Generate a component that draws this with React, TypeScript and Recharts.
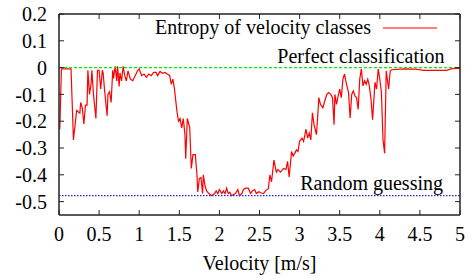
import React from 'react';
import { LineChart, Line, XAxis, YAxis, ReferenceLine, Legend } from 'recharts';

if (typeof document !== 'undefined') {
    document.body.style.margin = '0';
}

const FONT = '"Liberation Serif", "Times New Roman", serif';

// Velocity [m/s] sample positions and entropy values
const velocity = [
    0.01, 0.03, 0.15, 0.18, 0.22, 0.26, 0.27, 0.29, 0.31, 0.33, 0.35, 0.36, 0.38, 0.4, 0.41, 0.43, 0.46, 0.48,
    0.5, 0.52, 0.54, 0.55, 0.57, 0.6, 0.61, 0.63, 0.65, 0.67, 0.68, 0.7, 0.72, 0.73, 0.75, 0.76, 0.78, 0.8,
    0.82, 0.84, 0.86, 0.89, 0.92, 0.95, 0.98, 1.0, 1.03, 1.06, 1.09, 1.12, 1.15, 1.18, 1.21, 1.23, 1.26, 1.29,
    1.32, 1.35, 1.38, 1.4, 1.42, 1.44, 1.47, 1.49, 1.51, 1.53, 1.55, 1.57, 1.58, 1.6, 1.63, 1.65, 1.67, 1.7,
    1.72, 1.73, 1.75, 1.77, 1.79, 1.8, 1.82, 1.84, 1.87, 1.9, 1.94, 1.96, 1.98, 2.0, 2.03, 2.05, 2.07, 2.09,
    2.11, 2.13, 2.15, 2.2, 2.23, 2.25, 2.28, 2.3, 2.33, 2.36, 2.39, 2.41, 2.44, 2.46, 2.49, 2.52, 2.55, 2.58,
    2.61, 2.63, 2.65, 2.68, 2.71, 2.73, 2.76, 2.8, 2.83, 2.85, 2.87, 2.9, 2.92, 2.94, 2.96, 2.98, 3.0, 3.03,
    3.05, 3.08, 3.1, 3.12, 3.14, 3.16, 3.18, 3.21, 3.23, 3.24, 3.26, 3.29, 3.32, 3.34, 3.36, 3.39, 3.41, 3.43,
    3.44, 3.46, 3.48, 3.5, 3.52, 3.54, 3.56, 3.58, 3.61, 3.63, 3.65, 3.67, 3.69, 3.71, 3.73, 3.75, 3.77, 3.79,
    3.81, 3.83, 3.85, 3.87, 3.89, 3.91, 3.94, 3.96, 3.98, 4.0, 4.02, 4.04, 4.06, 4.08, 4.11, 4.13, 4.15, 4.3,
    4.45, 4.55, 4.83, 4.9, 5.0,
];

const entropy = [
    -0.23, -0.005, -0.005, -0.27, -0.16, -0.17, -0.13, -0.15, -0.21, -0.14, -0.14, -0.01, -0.1, -0.06, -0.01, -0.1, -0.19, -0.01,
    -0.01, -0.08, -0.01, -0.02, -0.09, -0.18, -0.1, -0.09, -0.13, -0.01, -0.04, 0.005, -0.05, 0.005, -0.07, -0.02, -0.05, 0.005,
    -0.03, -0.05, -0.012, -0.043, -0.049, -0.03, -0.011, -0.005, -0.03, -0.024, -0.036, -0.024, -0.03, -0.018, -0.018, -0.03, -0.014, -0.021,
    -0.018, -0.024, -0.03, -0.062, -0.043, -0.08, -0.162, -0.2, -0.19, -0.225, -0.19, -0.25, -0.34, -0.19, -0.225, -0.376, -0.325, -0.325,
    -0.4, -0.464, -0.414, -0.41, -0.47, -0.4, -0.44, -0.46, -0.47, -0.478, -0.47, -0.46, -0.47, -0.455, -0.47, -0.46, -0.47, -0.45,
    -0.47, -0.465, -0.478, -0.47, -0.455, -0.478, -0.47, -0.455, -0.45, -0.45, -0.47, -0.46, -0.455, -0.47, -0.463, -0.468, -0.47, -0.458,
    -0.452, -0.4, -0.426, -0.345, -0.39, -0.38, -0.39, -0.376, -0.38, -0.35, -0.408, -0.313, -0.33, -0.32, -0.307, -0.313, -0.275, -0.263,
    -0.275, -0.23, -0.263, -0.244, -0.27, -0.169, -0.213, -0.25, -0.162, -0.112, -0.137, -0.15, -0.118, -0.1, -0.093, -0.1, -0.112, -0.213,
    -0.1, -0.137, -0.106, -0.08, -0.112, -0.043, -0.024, -0.055, -0.093, -0.188, -0.1, -0.087, -0.106, -0.112, -0.156, -0.043, -0.005, -0.068,
    -0.049, -0.062, -0.043, -0.068, -0.118, -0.194, -0.055, -0.08, -0.005, -0.043, -0.093, -0.269, -0.32, -0.012, -0.08, -0.012, -0.008, -0.005,
    -0.006, -0.01, -0.01, -0.004, -0.003,
];

const xTicks = [0, 0.5, 1, 1.5, 2, 2.5, 3, 3.5, 4, 4.5, 5];
const yTicks = [-0.5, -0.4, -0.3, -0.2, -0.1, 0, 0.1, 0.2];

const perfectLevel = 0;
const randomLevel = -0.478;

const data = velocity.map((v, i) => ({ v, h: entropy[i] }));

const LineLabel = (props: any) => {
    const { viewBox, text, dx, dy } = props;
    if (!viewBox) return null;
    return (
        <text
            x={viewBox.x + viewBox.width + dx}
            y={viewBox.y + dy}
            textAnchor="end"
            fontSize={20}
            fontFamily={FONT}
            fill="#000"
        >
            {text}
        </text>
    );
};

const XLabel = (props: any) => {
    const { viewBox } = props;
    if (!viewBox) return null;
    return (
        <text x={viewBox.x + viewBox.width / 2} y={viewBox.y + 54.5} textAnchor="middle" fontSize={20} fontFamily={FONT} fill="#000">
            Velocity [m/s]
        </text>
    );
};

const LegendBox = () => (
    <div style={{ display: 'flex', alignItems: 'center', fontFamily: FONT, fontSize: 20, lineHeight: '20px', color: '#000' }}>
        <span>Entropy of velocity classes</span>
        <svg width={66} height={20} style={{ display: 'block' }}>
            <line x1={12} x2={66} y1={11} y2={11} stroke="#ff0000" strokeWidth={1.2} />
        </svg>
    </div>
);

const frame = { stroke: '#222', strokeWidth: 1.5 };
const tickStyle = { stroke: '#222', strokeWidth: 1 };
const noLabel = () => <g />;

export default function App() {
    return (
        <div style={{ width: 472, height: 278, background: '#fff', position: 'relative' }}>
            <LineChart width={472} height={278} data={data} margin={{ top: 13, right: 11, left: 0, bottom: 0 }}>
                <XAxis
                    dataKey="v"
                    type="number"
                    domain={[0, 5]}
                    ticks={xTicks}
                    interval={0}
                    height={63}
                    tickSize={-5}
                    tickMargin={16.5}
                    axisLine={frame}
                    tickLine={tickStyle}
                    tick={{ fontSize: 20, fontFamily: FONT, fill: '#000' }}
                    label={<XLabel />}
                />
                <XAxis
                    xAxisId="top"
                    dataKey="v"
                    orientation="top"
                    type="number"
                    domain={[0, 5]}
                    ticks={xTicks}
                    interval={0}
                    height={1}
                    tickSize={-5}
                    axisLine={frame}
                    tickLine={tickStyle}
                    tick={noLabel}
                />
                <YAxis
                    type="number"
                    domain={[-0.55, 0.2]}
                    ticks={yTicks}
                    interval={0}
                    width={59}
                    tickSize={-5}
                    tickMargin={17}
                    axisLine={frame}
                    tickLine={tickStyle}
                    tick={{ fontSize: 20, fontFamily: FONT, fill: '#000' }}
                    allowDataOverflow
                />
                <YAxis
                    yAxisId="right"
                    orientation="right"
                    type="number"
                    domain={[-0.55, 0.2]}
                    ticks={yTicks}
                    interval={0}
                    width={1}
                    tickSize={-5}
                    axisLine={frame}
                    tickLine={tickStyle}
                    tick={noLabel}
                    allowDataOverflow
                />
                <Legend
                    layout="horizontal"
                    verticalAlign="middle"
                    align="center"
                    content={<LegendBox />}
                    wrapperStyle={{ position: 'absolute', top: 17, right: 35, left: 'auto', width: 'auto' }}
                />
                <Line
                    dataKey="h"
                    type="linear"
                    stroke="#ff0000"
                    strokeWidth={1.2}
                    dot={false}
                    activeDot={false}
                    isAnimationActive={false}
                />
                <ReferenceLine
                    y={perfectLevel}
                    stroke="#00ee00"
                    strokeWidth={1.2}
                    strokeDasharray="3 2"
                    label={<LineLabel text="Perfect classification" dx={-15.5} dy={-4.6} />}
                />
                <ReferenceLine
                    y={randomLevel}
                    stroke="#2020ff"
                    strokeWidth={1.3}
                    strokeDasharray="1.5 1.5"
                    label={<LineLabel text="Random guessing" dx={-17} dy={-5.3} />}
                />
            </LineChart>
        </div>
    );
}
